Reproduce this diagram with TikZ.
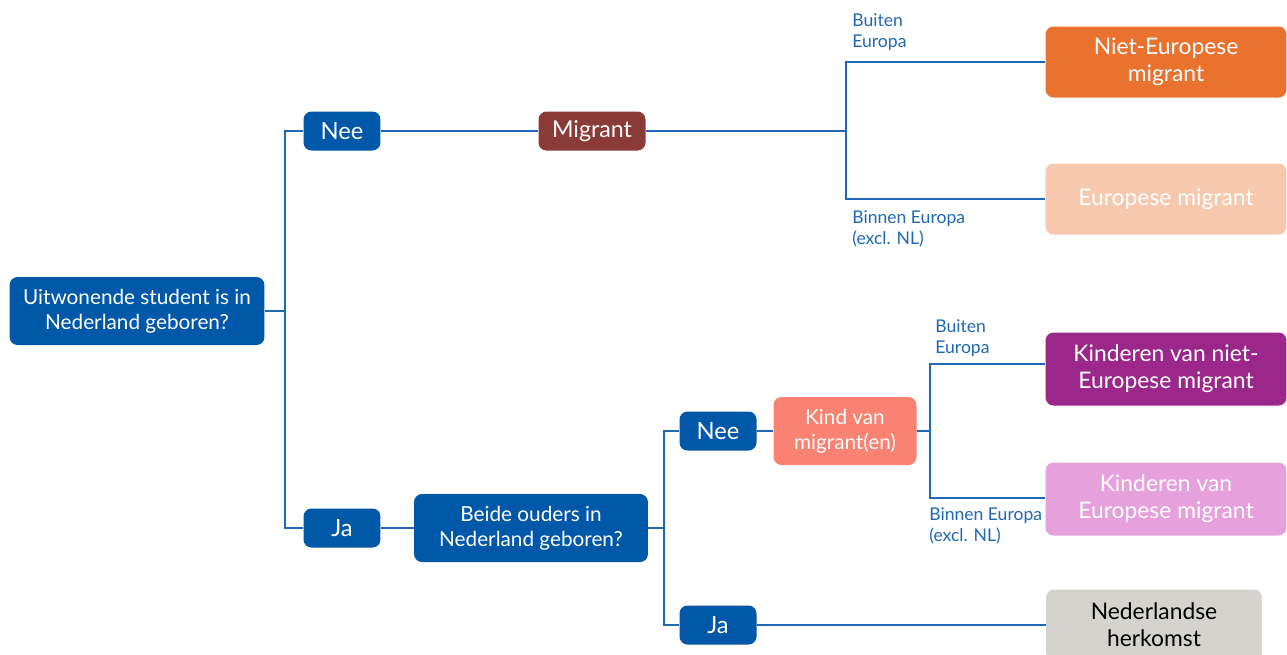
\documentclass[tikz,border=0pt]{standalone}
\usepackage{fontspec}
\setmainfont{Lato}
\usetikzlibrary{positioning}

\definecolor{lijnblauw}{HTML}{1F68B3}
\definecolor{donkerblauw}{HTML}{0258A8}
\definecolor{migrantrood}{HTML}{8A3B37}
\definecolor{nieteuoranje}{HTML}{E9722F}
\definecolor{euperzik}{HTML}{F6C8AE}
\definecolor{kindzalm}{HTML}{FA8272}
\definecolor{kindpaars}{HTML}{9C278B}
\definecolor{kindroze}{HTML}{E6A0DC}
\definecolor{nlgrijs}{HTML}{D5D3CD}

\tikzset{
    vakje/.style={rounded corners=0.16cm,text=white,align=center,inner sep=0,
        font=\fontsize{11.8pt}{14.5pt}\selectfont},
    janee/.style={vakje,fill=donkerblauw,minimum width=1.54cm,minimum height=0.78cm,
        font=\fontsize{13.5pt}{15pt}\selectfont},
    uitkomst/.style={vakje,minimum width=4.82cm,minimum height=1.42cm,
        font=\fontsize{13pt}{15.3pt}\selectfont},
    tak/.style={draw=lijnblauw,line width=0.9pt},
    regio/.style={text=lijnblauw,align=left,anchor=north west,inner sep=0,
        font=\fontsize{10pt}{12pt}\selectfont}
}

\begin{document}
\begin{tikzpicture}[x=0.02cm,y=-0.02cm]
    \useasboundingbox (0,0) rectangle (1287,654);
    \clip (0,0) rectangle (1287,654);
    % vragen en antwoorden
    \node[vakje,fill=donkerblauw,minimum width=5.1cm,minimum height=1.36cm] (geboren) at (137,311) {Uitwonende student is in\\Nederland geboren?};
    \node[janee] (nee1) at (342,131) {Nee};
    \node[janee] (ja1) at (342,528) {Ja};
    \node[vakje,fill=migrantrood,minimum width=2.14cm,minimum height=0.78cm,font=\fontsize{13.2pt}{15pt}\selectfont] (migrant) at (592,131) {Migrant};
    \node[vakje,fill=donkerblauw,minimum width=4.68cm,minimum height=1.36cm] (ouders) at (531,528) {Beide ouders in\\Nederland geboren?};
    \node[janee] (nee2) at (718,431) {Nee};
    \node[janee] (ja2) at (718,625) {Ja};
    \node[vakje,fill=kindzalm,minimum width=2.86cm,minimum height=1.36cm] (kindvan) at (845,431) {Kind van\\migrant(en)};
    % uitkomsten
    \node[uitkomst,fill=nieteuoranje] (nieteu) at (1166,62) {Niet-Europese\\migrant};
    \node[uitkomst,fill=euperzik] (eu) at (1166,199) {Europese migrant};
    \node[uitkomst,fill=kindpaars,minimum height=1.46cm] (kindnieteu) at (1166,369) {Kinderen van niet-\\Europese migrant};
    \node[uitkomst,fill=kindroze,minimum height=1.46cm] (kindeu) at (1166,499) {Kinderen van\\Europese migrant};
    \node[uitkomst,fill=nlgrijs,text=black,minimum width=4.32cm] (nl) at (1154,625) {Nederlandse\\herkomst};
    % splitsingen
    \coordinate (s1) at (285,311);
    \coordinate (s2) at (846,131);
    \coordinate (s3) at (664,528);
    \coordinate (s4) at (930,431);
    \draw[tak] (geboren) -- (s1);
    \draw[tak] (nee1.west) -| (s1);
    \draw[tak] (ja1.west) -| (s1);
    \draw[tak] (nee1) -- (migrant);
    \draw[tak] (ja1) -- (ouders);
    \draw[tak] (migrant) -- (s2);
    \draw[tak] (nieteu.west) -| (s2);
    \draw[tak] (eu.west) -| (s2);
    \draw[tak] (ouders) -- (s3);
    \draw[tak] (nee2.west) -| (s3);
    \draw[tak] (ja2.west) -| (s3);
    \draw[tak] (nee2) -- (kindvan);
    \draw[tak] (kindvan) -- (s4);
    \draw[tak] (kindnieteu.west |- 0,364) -| (s4);
    \draw[tak] (kindeu.west |- 0,498) -| (s4);
    \draw[tak] (ja2) -- (nl.west |- ja2);
    % labels bij de takken
    \node[regio] (buiten1) at (852,13) {Buiten\\Europa};
    \node[regio] (binnen1) at (852,210) {Binnen Europa\\(excl. NL)};
    \node[regio] (buiten2) at (935,319) {Buiten\\Europa};
    \node[regio] (binnen2) at (929,507) {Binnen Europa\\(excl. NL)};
\end{tikzpicture}
\end{document}
